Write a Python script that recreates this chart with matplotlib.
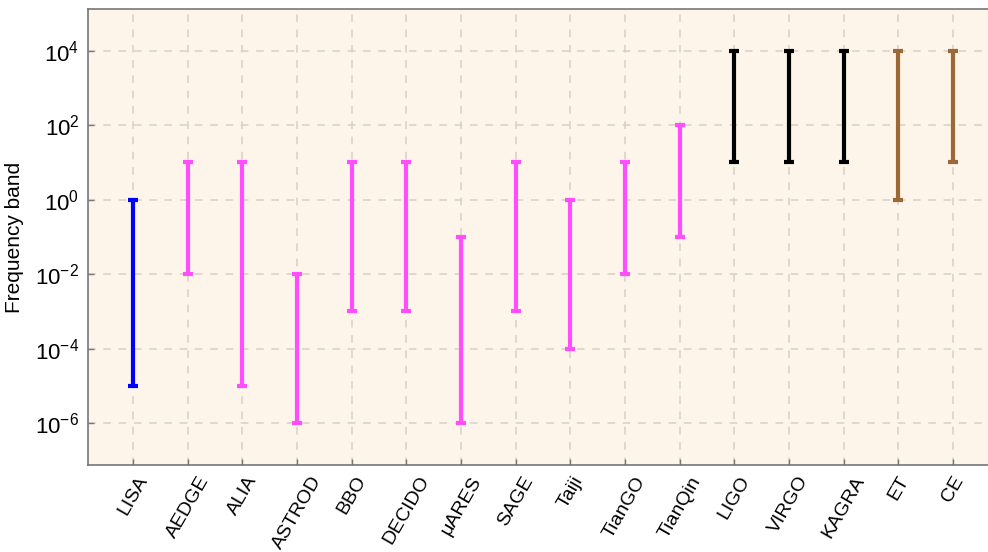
import numpy as np
import matplotlib
matplotlib.use('Agg')
import matplotlib.pyplot as plt

plt.rcParams['font.family'] = ['Liberation Sans', 'DejaVu Sans']
plt.rcParams['mathtext.fontset'] = 'custom'
plt.rcParams['mathtext.rm'] = 'Liberation Sans'
plt.rcParams['mathtext.it'] = 'Liberation Sans:italic'
plt.rcParams['mathtext.default'] = 'regular'

# detector names and frequency bands (Hz)
detectors = ['LISA', 'AEDGE', 'ALIA', 'ASTROD', 'BBO', 'DECIDO', 'μARES', 'SAGE',
             'Taiji', 'TianGO', 'TianQin', 'LIGO', 'VIRGO', 'KAGRA', 'ET', 'CE']
f_low = [1e-5, 1e-2, 1e-5, 1e-6, 1e-3, 1e-3, 1e-6, 1e-3,
         1e-4, 1e-2, 1e-1, 1e1, 1e1, 1e1, 1e0, 1e1]
f_high = [1e0, 1e1, 1e1, 1e-2, 1e1, 1e1, 1e-1, 1e1,
          1e0, 1e1, 1e2, 1e4, 1e4, 1e4, 1e4, 1e4]
groups = ['lisa'] + ['space'] * 10 + ['ground'] * 3 + ['third'] * 2

group_colors = {'lisa': '#0000FF', 'space': '#FF4DFF', 'ground': '#000000', 'third': '#9C6835'}

fig = plt.figure(figsize=(9.88, 5.52), dpi=100)
ax = fig.add_axes([0.0888, 0.1576, 0.9112, 0.8252])
ax.set_facecolor('#FDF4EA')

x = np.arange(len(detectors))
for i in range(len(detectors)):
    c = group_colors[groups[i]]
    ax.vlines(x[i], f_low[i], f_high[i], color=c, lw=3.0, zorder=3)
    ax.plot([x[i], x[i]], [f_low[i], f_high[i]], ls='none', marker='_',
            ms=7.5, mew=3.0, color=c, zorder=3)

ax.set_yscale('log')
ax.set_ylim(10**-7.12, 10**5.105)
ax.set_xlim(-0.83, 15.64)

yt = [1e-6, 1e-4, 1e-2, 1e0, 1e2, 1e4]
ax.set_yticks(yt)
ax.set_yticklabels([r'$10^{%d}$' % int(np.log10(v)) for v in yt], fontsize=16)
ax.yaxis.set_minor_locator(matplotlib.ticker.NullLocator())
ax.set_xticks(x)
# labels centred under the tick, like the original
ax.set_xticklabels(detectors, rotation=60, ha='center', va='top', fontsize=14)

ax.tick_params(direction='in', length=4, width=1, color='#777777', pad=6)
ax.tick_params(axis='x', pad=6)
ax.grid(True, ls=(0, (5, 5)), color='#D8D0C6', lw=1.1)
ax.set_axisbelow(True)

for s in ['left', 'bottom', 'top']:
    ax.spines[s].set_color('#777777')
    ax.spines[s].set_linewidth(1.2)
ax.spines['right'].set_visible(False)

ax.set_ylabel('Frequency band', fontsize=15, labelpad=8)

fig.savefig('out.png', dpi=100)
